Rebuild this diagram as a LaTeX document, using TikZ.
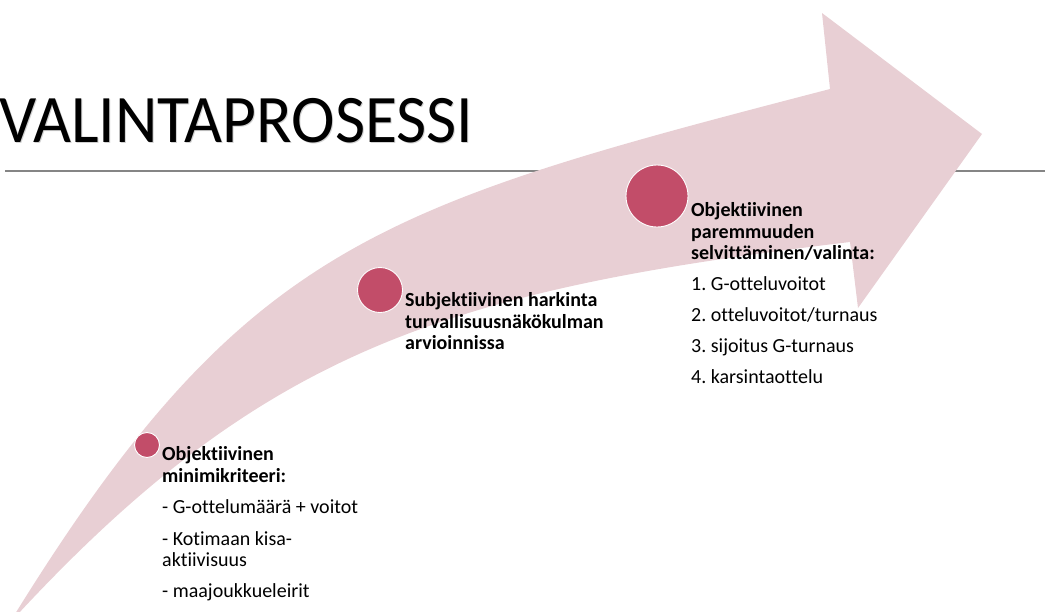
\documentclass[tikz,border=0pt]{standalone}
\usepackage{fontspec}
\setmainfont{Carlito}[Ligatures={NoCommon}]
\newfontfamily\titlefont{Carlito}[Ligatures={NoCommon},FakeStretch=0.965]
\definecolor{bandpink}{HTML}{E8CFD4}
\definecolor{dotred}{HTML}{C24D69}
\definecolor{rulegray}{HTML}{858585}
\frenchspacing

\begin{document}
\begin{tikzpicture}[x=1pt,y=-1pt,
   dot/.style={circle,fill=dotred,draw=white,line width=0.9pt,inner sep=0pt},
   txt/.style={anchor=north west,align=left,inner sep=0pt,font=\fontsize{20}{21.5}\selectfont}]
   \useasboundingbox (0,0) rectangle (1045,611);
   \clip (0,0) rectangle (1045,611);
   % title and rule
   \node[anchor=base west,inner sep=0pt,font=\titlefont\fontsize{68}{68}\selectfont,text=black!18] at (0,143) {VALINTAPROSESSI};
   \node[anchor=base west,inner sep=0pt,font=\titlefont\fontsize{68}{68}\selectfont] (title) at (-1,142) {VALINTAPROSESSI};
   \draw[rulegray,line width=1.8pt] (5,171) -- (1045,171);
   % curved arrow
   \fill[bandpink] (15,614) .. controls (245,243) and (380,206) .. (830,89)
      -- (822,13) -- (982,134) -- (858,308) -- (850,242)
      .. controls (450,290) and (265,348) .. (18,614) -- cycle;
   % steps
   \node[dot,minimum size=25pt] (c1) at (147,445) {};
   \node[dot,minimum size=45pt] (c2) at (380,290) {};
   \node[dot,minimum size=62pt] (c3) at (657,196) {};
   \node[txt] (t1) at (162,446.5) {\textbf{Objektiivinen}\\\textbf{minimikriteeri:}\\[10pt]
      - G-ottelumäärä + voitot\\[10pt]- Kotimaan kisa-\\aktiivisuus\\[9pt]- maajoukkueleirit};
   \node[txt] (t2) at (405,292.5) {\textbf{Subjektiivinen harkinta}\\\textbf{turvallisuusnäkökulman}\\\textbf{arvioinnissa}};
   \node[txt] (t3) at (691,202.5) {\textbf{Objektiivinen}\\\textbf{paremmuuden}\\\textbf{selvittäminen/valinta:}\\[9.5pt]
      1. G-otteluvoitot\\[9.5pt]2. otteluvoitot/turnaus\\[9.5pt]3. sijoitus G-turnaus\\[9.5pt]4. karsintaottelu};
\end{tikzpicture}
\end{document}
